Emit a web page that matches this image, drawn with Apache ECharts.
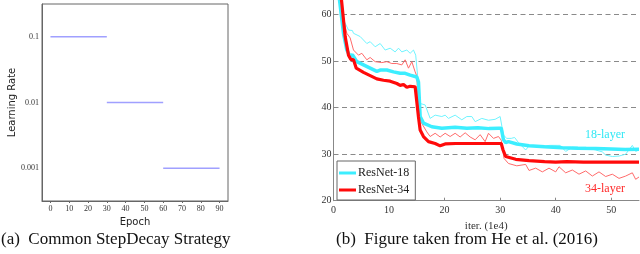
<!DOCTYPE html>
<html>
<head>
<meta charset="utf-8">
<script src="https://cdn.jsdelivr.net/npm/echarts@6/dist/echarts.min.js"></script>
<style>html,body{margin:0;padding:0;background:#fff}#c{width:640px;height:254px}</style>
</head>
<body>
<div id="c"></div>
<script>
// ---- Left panel: step decay ----
var epochBounds = [0, 30, 60, 90];
var learningRates = [0.1, 0.01, 0.001];
var lrTickLabels = ['0.001', '0.01', '0.1'];

// ---- Right panel: ResNet curves (iter in 1e4, error in %) ----
var train18Iter = [1.0, 1.8, 2.7, 3.4, 3.6, 4.8, 6.0, 6.6, 7.5, 8.4, 9.3, 10.2, 11.1, 11.7, 12.3, 13.2, 13.8, 14.4, 14.8, 15.1, 15.6, 16.5, 17.4, 18.3, 19.5, 20.1, 20.7, 21.9, 23.1, 24.0, 24.9, 25.5, 26.7, 27.9, 29.1, 30.0, 30.6, 31.2, 32.0, 32.6, 33.3, 34.6, 35.2, 37.0, 39.0, 40.8, 41.8, 43.0, 45.4, 47.2, 48.4, 49.0, 50.2, 51.4, 52.6, 53.8, 54.4, 55.0];
var train18Err = [65, 58.9, 56.7, 56.6, 56.0, 55.3, 53.8, 54.2, 53.1, 53.8, 52.4, 52.8, 52.0, 52.8, 52.0, 52.4, 51.7, 52.4, 51.3, 50.9, 40.9, 40.6, 37.7, 38.4, 38.1, 38.4, 37.7, 38.4, 37.4, 38.1, 38.1, 37.0, 37.7, 37.3, 37.5, 38.1, 34.1, 33.4, 33.4, 33.6, 32.5, 30.9, 31.8, 31.7, 31.9, 31.9, 30.6, 31.5, 31.5, 30.9, 30.5, 29.8, 29.5, 29.6, 30.0, 31.9, 30.6, 30.9];
var train34Iter = [1.4, 1.8, 2.4, 3.0, 3.6, 4.5, 5.1, 6.0, 6.6, 7.5, 8.7, 9.6, 10.5, 11.4, 12.3, 12.9, 13.5, 14.1, 14.7, 15.0, 15.3, 15.9, 16.8, 17.4, 18.3, 19.2, 20.1, 21.0, 21.9, 22.8, 23.7, 24.6, 25.5, 26.4, 27.3, 27.9, 28.8, 29.7, 30.2, 30.7, 31.5, 33.0, 34.6, 35.2, 36.4, 37.6, 38.8, 40.0, 40.6, 41.8, 43.0, 44.2, 45.4, 46.6, 47.8, 49.0, 50.2, 51.4, 52.6, 53.8, 54.4, 55.0];
var train34Err = [64, 58.9, 56.0, 55.0, 52.4, 51.3, 51.7, 50.3, 50.8, 49.9, 49.7, 49.9, 49.5, 49.5, 49.2, 50.3, 48.5, 49.9, 47.7, 46.8, 39.5, 36.6, 34.8, 33.8, 34.5, 33.7, 34.5, 33.8, 34.5, 33.7, 34.6, 33.7, 33.1, 34.2, 32.7, 34.5, 33.4, 33.8, 33.0, 29.1, 28.0, 27.5, 27.8, 26.5, 27.0, 26.2, 27.0, 26.2, 27.3, 26.0, 26.6, 25.7, 26.4, 25.3, 26.2, 25.2, 25.7, 24.8, 25.3, 26.0, 24.6, 25.1];
var val18Iter = [0.9, 1.8, 2.4, 3.0, 3.4, 4.2, 5.4, 6.6, 7.8, 8.4, 9.6, 10.8, 12.0, 12.9, 13.8, 15.0, 15.3, 15.6, 16.2, 17.7, 19.5, 21.9, 24.0, 26.0, 28.0, 29.7, 30.2, 30.6, 31.0, 31.5, 33.0, 35.2, 38.0, 41.2, 44.0, 47.2, 50.0, 52.5, 55.0];
var val18Err = [65, 56.0, 52.4, 51.0, 51.4, 49.9, 49.2, 48.5, 47.8, 48.1, 48.1, 47.7, 47.4, 47.4, 47.0, 46.6, 45.5, 38.1, 36.7, 35.9, 35.6, 35.8, 35.6, 35.7, 35.5, 35.6, 35.6, 33.1, 32.5, 32.7, 32.2, 31.8, 31.6, 31.4, 31.3, 31.2, 31.1, 31.0, 31.05];
var val34Iter = [1.2, 2.1, 2.7, 3.1, 3.6, 4.1, 5.4, 6.6, 7.8, 9.0, 10.2, 11.4, 12.0, 12.6, 13.2, 13.8, 14.1, 14.7, 15.0, 15.3, 15.6, 16.2, 17.1, 18.3, 19.2, 20.1, 22, 25, 28, 30.2, 30.5, 31.0, 32.8, 35.2, 38, 40.0, 42, 45, 48, 51, 55];
var val34Err = [66, 55.3, 51.3, 50.4, 50.3, 48.5, 47.6, 46.9, 46.2, 45.9, 45.7, 45.2, 44.8, 45.0, 44.4, 44.6, 44.3, 44.5, 44.2, 38.0, 35.2, 33.8, 32.7, 32.3, 31.8, 32.2, 32.3, 32.3, 32.3, 32.3, 31.0, 29.5, 28.9, 28.6, 28.4, 28.3, 28.4, 28.3, 28.3, 28.3, 28.3];
var errTicks = [20, 30, 40, 50, 60];

function zip(xs, ys) { return xs.map(function (x, i) { return [x, ys[i]]; }); }

var serif = '"Liberation Serif", "DejaVu Serif", serif';
var sans = '"DejaVu Sans", "Noto Sans", sans-serif';

// build step segments (log10 of learning rate)
var stepData = [];
for (var i = 0; i < learningRates.length; i++) {
  var ly = Math.log10(learningRates[i]);
  stepData.push([epochBounds[i], ly], [epochBounds[i + 1], ly]);
  if (i < learningRates.length - 1) stepData.push([epochBounds[i + 1], null]);
}

var chart = echarts.init(document.getElementById('c'), null, { renderer: 'canvas' });
chart.setOption({
  animation: false,
  grid: [
    { left: 42, top: 4, width: 186, height: 197, show: true, borderColor: '#666', borderWidth: 1, backgroundColor: '#fff' },
    { left: 333.5, right: 1, top: 0, bottom: 53.3 }
  ],
  xAxis: [
    {
      gridIndex: 0, type: 'value', min: -4.5, max: 94.5, splitNumber: 10,
      name: 'Epoch', nameLocation: 'middle', nameGap: 12,
      nameTextStyle: { fontFamily: sans, fontSize: 10, color: '#222' },
      axisLine: { show: true, onZero: false, lineStyle: { color: '#666' } },
      axisTick: { show: true, length: 2, lineStyle: { color: '#666' } },
      splitLine: { show: false },
      axisLabel: {
        margin: 4, fontFamily: serif, fontSize: 8, color: '#333',
        showMinLabel: false, showMaxLabel: false,
        formatter: function (v) { return (Math.abs(v % 10) < 1e-6) ? String(v) : ''; }
      }
    },
    {
      gridIndex: 1, type: 'value', min: 0, max: 55, interval: 10,
      name: 'iter. (1e4)', nameLocation: 'middle', nameGap: 10,
      nameTextStyle: { fontFamily: serif, fontSize: 11, color: '#333' },
      axisLine: { show: true, onZero: false, lineStyle: { color: '#888' } },
      axisTick: { show: true, inside: true, length: 3, lineStyle: { color: '#888' } },
      splitLine: { show: false },
      axisLabel: { margin: 5, fontFamily: serif, fontSize: 10, color: '#333', showMaxLabel: false }
    }
  ],
  yAxis: [
    {
      gridIndex: 0, type: 'value', min: -3.5, max: -0.5, splitNumber: 3,
      name: 'Learning Rate', nameLocation: 'middle', nameGap: 25, nameRotate: 90,
      nameTextStyle: { fontFamily: sans, fontSize: 10, color: '#222' },
      axisLine: { show: true, onZero: false, lineStyle: { color: '#666' } },
      axisTick: { show: false },
      splitLine: { show: false },
      axisLabel: {
        margin: 3, fontFamily: serif, fontSize: 8, color: '#333',
        showMinLabel: false, showMaxLabel: false,
        formatter: function (v) {
          var k = Math.round(v);
          if (Math.abs(v - k) > 1e-6) return '';
          var idx = k + 3;
          return lrTickLabels[idx] || '';
        }
      }
    },
    {
      gridIndex: 1, type: 'value', min: 20, max: 63.16, interval: 10,
      axisLine: { show: true, onZero: false, lineStyle: { color: '#888' } },
      axisTick: { show: true, inside: true, length: 3, lineStyle: { color: '#888' } },
      splitLine: { show: true, showMaxLine: false, lineStyle: { color: '#8a8a8a', type: [5, 3.5], width: 1 } },
      axisLabel: {
        margin: 2, fontFamily: serif, fontSize: 10, color: '#333', showMaxLabel: false,
        formatter: function (v) { return errTicks.indexOf(v) >= 0 ? String(v) : ''; }
      }
    }
  ],
  legend: {
    data: ['ResNet-18', 'ResNet-34'],
    orient: 'vertical', left: 337, top: 161,
    backgroundColor: '#fff', borderColor: '#666', borderWidth: 1,
    padding: [6, 6, 4, 2], itemGap: 5, itemWidth: 17, itemHeight: 3,
    icon: 'rect',
    textStyle: { fontFamily: serif, fontSize: 12, color: '#222', padding: [0, 0, 0, -3] }
  },
  series: [
    { type: 'line', xAxisIndex: 0, yAxisIndex: 0, data: stepData, showSymbol: false, symbol: 'none', connectNulls: false,
      lineStyle: { color: '#a0a0ff', width: 1.5 } },
    { name: 'ResNet-18 train', type: 'line', xAxisIndex: 1, yAxisIndex: 1, data: zip(train18Iter, train18Err), symbol: 'none',
      lineStyle: { color: '#6ff4ff', width: 1 } },
    { name: 'ResNet-34 train', type: 'line', xAxisIndex: 1, yAxisIndex: 1, data: zip(train34Iter, train34Err), symbol: 'none',
      lineStyle: { color: '#ff6a6a', width: 1 } },
    { name: 'ResNet-18', type: 'line', xAxisIndex: 1, yAxisIndex: 1, data: zip(val18Iter, val18Err), symbol: 'none',
      itemStyle: { color: '#3ceeff' }, lineStyle: { color: '#3ceeff', width: 3.5 } },
    { name: 'ResNet-34', type: 'line', xAxisIndex: 1, yAxisIndex: 1, data: zip(val34Iter, val34Err), symbol: 'none',
      itemStyle: { color: '#ff0a0a' }, lineStyle: { color: '#ff0a0a', width: 3.2 } }
  ],
  graphic: [
    { type: 'text', left: 1, top: 231, style: { text: '(a)  Common StepDecay Strategy', fontFamily: serif, fontSize: 17, fill: '#111' } },
    { type: 'text', left: 336, top: 231, style: { text: '(b)  Figure taken from He et al. (2016)', fontFamily: serif, fontSize: 17, fill: '#111' } },
    { type: 'text', left: 585, top: 129, style: { text: '18-layer', fontFamily: serif, fontSize: 12, fill: '#30e8f5' } },
    { type: 'text', left: 585, top: 183, style: { text: '34-layer', fontFamily: serif, fontSize: 12, fill: '#ff2a2a' } }
  ]
});
</script>
</body>
</html>
